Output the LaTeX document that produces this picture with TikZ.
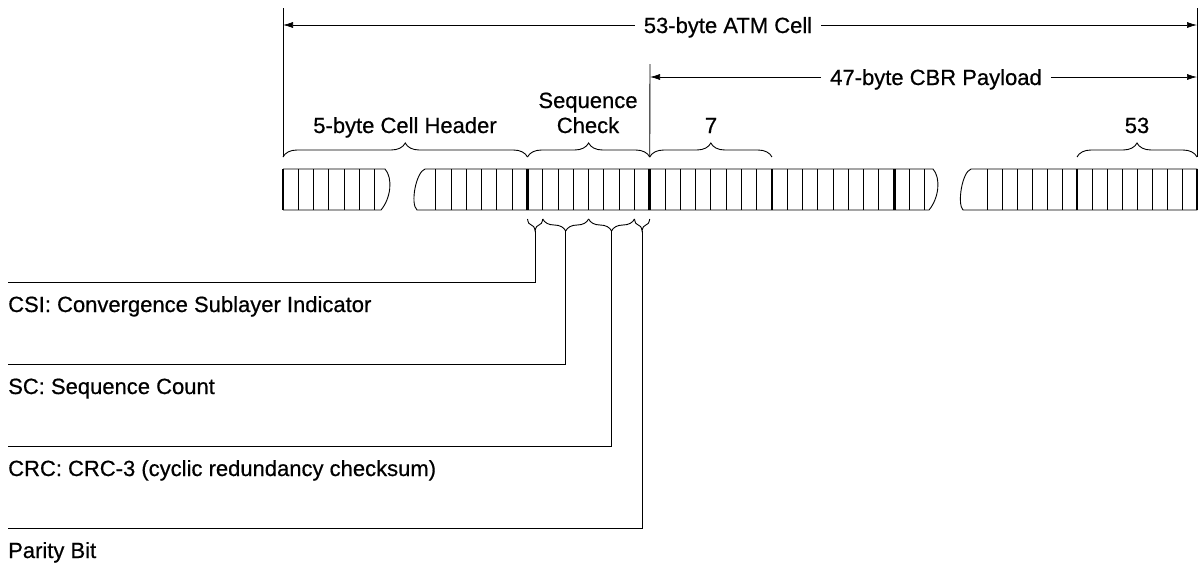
\documentclass[tikz,border=0pt]{standalone}
\usepackage{fontspec}
\setmainfont{Liberation Sans}[FakeBold=0.6]
\usetikzlibrary{arrows.meta, decorations.pathreplacing, positioning}

% x position of bit k in the left part of the cell
\newcommand{\bitx}[1]{(283+#1*15.28)}

\begin{document}
\begin{tikzpicture}[
    x=1pt, y=-1pt,
    bitline/.style={line width=0.9pt},
    byteline/.style={line width=2.6pt},
    dimarrow/.style={-{Latex[length=10pt, width=6pt]}, line width=0.7pt},
    upbrace/.style={decorate, decoration={brace, amplitude=14pt}, line width=0.9pt},
    downbrace/.style={decorate, decoration={brace, amplitude=12pt}, line width=0.9pt},
    lbl/.style={inner sep=0pt, font=\fontsize{22}{26}\selectfont},
    dimlbl/.style={lbl, text height=16pt, text depth=0pt, inner sep=9pt},
    leader/.style={line width=0.9pt}
]
    \useasboundingbox (0,0) rectangle (1201,568);

    % Cell row (three pieces with breaks)
    \draw[bitline] (283,169) -- (385,169) .. controls (393,178) and (391,198) .. (381,210) -- (283,210);
    \draw[bitline] (417,210) .. controls (410,204) and (416,172) .. (425,169) -- (933,169)
        .. controls (941,178) and (939,198) .. (929,210) -- cycle;
    \draw[bitline] (963,210) .. controls (957,204) and (962,172) .. (971,169) -- (1197,169) -- (1197,210) -- cycle;

    % Bits and bytes
    \foreach \k in {1,...,6} \draw[bitline] ({\bitx{\k}},169) -- ++(0,41);
    \foreach \k in {10,...,42} \draw[bitline] ({\bitx{\k}},169) -- ++(0,41);
    \foreach \k in {0,16,24,32,40} \draw[byteline] ({\bitx{\k}},169) -- ++(0,41);
    \foreach \j in {1,...,14} \draw[bitline] ({1197-\j*15},169) -- ++(0,41);
    \foreach \j in {0,8} \draw[byteline] ({1197-\j*15},169) -- ++(0,41);

    % Braces above
    \draw[upbrace] ({\bitx{0}},157) -- ({\bitx{16}},157);
    \draw[upbrace] ({\bitx{16}},157) -- ({\bitx{24}},157);
    \draw[upbrace] ({\bitx{24}},157) -- ({\bitx{32}},157);
    \draw[upbrace] (1077,157) -- (1197,157);

    \node[lbl, anchor=base] (hdrlbl) at (405,133) {5-byte Cell Header};
    \node[lbl, anchor=base] (seqlbl) at (588,108) {Sequence};
    \node[lbl, anchor=base] (chklbl) at (588,133) {Check};
    \node[lbl, anchor=base] (sevenlbl) at (711,133) {7};
    \node[lbl, anchor=base] (lastlbl) at (1137,133) {53};

    % Extent lines
    \coordinate (celltop) at (283,8);
    \coordinate (cellbase) at (283,157);
    \coordinate (cbrtop) at (650,64);
    \coordinate (cbrbase) at ({\bitx{24}},157);
    \coordinate (endtop) at (1197,8);
    \coordinate (endbase) at (1197,157);
    \draw[bitline] (celltop) -- (cellbase);
    \draw[bitline] (cbrtop) -- (cbrbase);
    \draw[bitline] (endtop) -- (endbase);

    % Dimensions
    \node[dimlbl] (atmlbl) at (728,25) {53-byte ATM Cell};
    \coordinate (atmL) at (283,25);
    \coordinate (atmR) at (1197,25);
    \draw[dimarrow] (atmlbl) -- (atmL);
    \draw[dimarrow] (atmlbl) -- (atmR);

    \node[dimlbl] (cbrlbl) at (936,77) {47-byte CBR Payload};
    \coordinate (cbrL) at (650,77);
    \coordinate (cbrR) at (1197,77);
    \draw[dimarrow] (cbrlbl) -- (cbrL);
    \draw[dimarrow] (cbrlbl) -- (cbrR);

    % Braces below the sequence check byte
    \draw[downbrace] ({\bitx{17}},219) -- ({\bitx{16}},219);
    \draw[downbrace] ({\bitx{20}},219) -- ({\bitx{17}},219);
    \draw[downbrace] ({\bitx{23}},219) -- ({\bitx{20}},219);
    \draw[downbrace] ({\bitx{24}},219) -- ({\bitx{23}},219);

    \coordinate (csitip) at ({(\bitx{16}+\bitx{17})/2},231);
    \coordinate (sctip) at ({(\bitx{17}+\bitx{20})/2},231);
    \coordinate (crctip) at ({(\bitx{20}+\bitx{23})/2},231);
    \coordinate (partip) at ({(\bitx{23}+\bitx{24})/2},231);

    \coordinate (csiend) at (8,282);
    \coordinate (scend) at (8,364);
    \coordinate (crcend) at (8,446);
    \coordinate (parend) at (8,528);

    % Leaders
    \draw[leader] (csitip) |- (csiend);
    \draw[leader] (sctip) |- (scend);
    \draw[leader] (crctip) |- (crcend);
    \draw[leader] (partip) |- (parend);

    \node[lbl, anchor=base west] (csilbl) at (8,312) {CSI: Convergence Sublayer Indicator};
    \node[lbl, anchor=base west] (sclbl) at (8,394) {SC: Sequence Count};
    \node[lbl, anchor=base west] (crclbl) at (8,476) {CRC: CRC-3 (cyclic redundancy checksum)};
    \node[lbl, anchor=base west] (parlbl) at (8,558) {Parity Bit};
\end{tikzpicture}
\end{document}
